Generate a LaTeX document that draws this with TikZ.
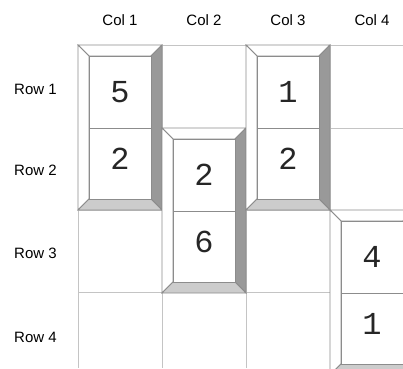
\documentclass[tikz,border=0pt]{standalone}
\usepackage{fontspec}
\setmainfont{Liberation Sans}
\newfontfamily\digitfont{Liberation Mono}
\usetikzlibrary{positioning, calc}

% one domino tile spanning two rows: name, left, top, upper digit, lower digit
\newcommand{\tilebox}[5]{%
  \pgfmathsetmacro\tbxa{#2}\pgfmathsetmacro\tbxb{#2+84}%
  \pgfmathsetmacro\tbya{#3}\pgfmathsetmacro\tbyb{#3+165}%
  \pgfmathsetmacro\tbxi{#2+11}\pgfmathsetmacro\tbxj{#2+73}%
  \pgfmathsetmacro\tbyi{#3+11}\pgfmathsetmacro\tbyj{#3+154}%
  \pgfmathsetmacro\tbym{#3+83}%
  % bevels
  \filldraw[bevel, fill=white] (\tbxa,\tbya) -- (\tbxb,\tbya) -- (\tbxj,\tbyi) -- (\tbxi,\tbyi) -- cycle;
  \filldraw[bevel, fill=white] (\tbxa,\tbya) -- (\tbxi,\tbyi) -- (\tbxi,\tbyj) -- (\tbxa,\tbyb) -- cycle;
  \filldraw[bevel, fill=bevelDark] (\tbxb,\tbya) -- (\tbxb,\tbyb) -- (\tbxj,\tbyj) -- (\tbxj,\tbyi) -- cycle;
  \filldraw[bevel, fill=bevelLight] (\tbxa,\tbyb) -- (\tbxb,\tbyb) -- (\tbxj,\tbyj) -- (\tbxi,\tbyj) -- cycle;
  % face
  \filldraw[bevel, fill=white] (\tbxi,\tbyi) rectangle (\tbxj,\tbyj);
  \draw[bevel] (\tbxi,\tbym) -- (\tbxj,\tbym);
  \node[digit] (#1-a) at ({(\tbxi+\tbxj)/2}, {(\tbyi+\tbym)/2}) {#4};
  \node[digit] (#1-b) at ({(\tbxi+\tbxj)/2}, {(\tbym+\tbyj)/2-5}) {#5};
}

\definecolor{gridGray}{HTML}{C4C4C4}
\definecolor{edgeGray}{HTML}{8C8C8C}
\definecolor{bevelDark}{HTML}{999999}
\definecolor{bevelLight}{HTML}{CCCCCC}

\begin{document}
\begin{tikzpicture}[
    x=1pt, y=-1pt,
    gridline/.style={draw=gridGray, line width=0.9pt},
    bevel/.style={draw=edgeGray, line width=0.8pt, line join=miter},
    digit/.style={font=\digitfont\fontsize{32}{32}\selectfont, text=black!85, inner sep=0pt},
    header/.style={font=\fontsize{15}{16}\selectfont, inner sep=0pt}
]
    \clip (0,0) rectangle (403,368);

    % --- Headers ---
    \node[header] (col1) at (120, 20) {Col 1};
    \node[header] (col2) at (204, 20) {Col 2};
    \node[header] (col3) at (288, 20) {Col 3};
    \node[header] (col4) at (372, 20) {Col 4};
    \node[header] (row1) at (35.5, 89) {Row 1};
    \node[header] (row2) at (35.5, 170) {Row 2};
    \node[header] (row3) at (35.5, 253) {Row 3};
    \node[header] (row4) at (35.5, 337) {Row 4};

    % --- Grid ---
    \foreach \gx in {78, 162, 246, 330}
        \draw[gridline] (\gx, 45) -- (\gx, 368);
    \foreach \gy in {45, 128, 210, 292}
        \draw[gridline] (78, \gy) -- (403, \gy);

    % --- Tiles ---
    \tilebox{tileA}{78}{45}{5}{2}
    \tilebox{tileB}{162}{128}{2}{6}
    \tilebox{tileC}{246}{45}{1}{2}
    \tilebox{tileD}{330}{210}{4}{1}

\end{tikzpicture}
\end{document}
